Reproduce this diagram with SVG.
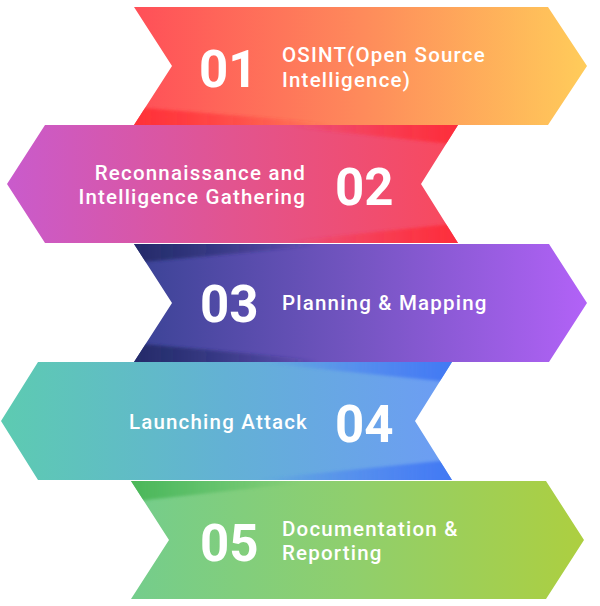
<svg xmlns="http://www.w3.org/2000/svg" width="600" height="606" viewBox="0 0 600 606">
  <defs>
    <style>
      .num { font-family: Roboto, "Liberation Sans", sans-serif; font-weight: 700; font-size: 51px; fill: #ffffff; }
      .lbl { font-family: Roboto, "Liberation Sans", sans-serif; font-weight: 500; font-size: 20.5px; fill: #ffffff; letter-spacing: 1.2px; }
      .end { text-anchor: end; }
      .shade { filter: url(#soft); }
    </style>
    <filter id="soft" x="-10%" y="-50%" width="120%" height="200%">
      <feGaussianBlur stdDeviation="1.6"/>
    </filter>
    <linearGradient id="g1" gradientUnits="userSpaceOnUse" x1="134" y1="0" x2="587" y2="0">
      <stop offset="0" stop-color="#FF4F58"/>
      <stop offset="0.5" stop-color="#FE8A5B"/>
      <stop offset="1" stop-color="#FFCC5A"/>
    </linearGradient>
    <linearGradient id="g2" gradientUnits="userSpaceOnUse" x1="7" y1="0" x2="458" y2="0">
      <stop offset="0" stop-color="#C95BCC"/>
      <stop offset="0.5" stop-color="#E2548F"/>
      <stop offset="1" stop-color="#F9495C"/>
    </linearGradient>
    <linearGradient id="g3" gradientUnits="userSpaceOnUse" x1="134" y1="0" x2="587" y2="0">
      <stop offset="0" stop-color="#3A4395"/>
      <stop offset="0.5" stop-color="#7555C2"/>
      <stop offset="1" stop-color="#B262F7"/>
    </linearGradient>
    <linearGradient id="g4" gradientUnits="userSpaceOnUse" x1="1" y1="0" x2="452" y2="0">
      <stop offset="0" stop-color="#5DCBB1"/>
      <stop offset="0.5" stop-color="#63B1D5"/>
      <stop offset="1" stop-color="#6D9CF5"/>
    </linearGradient>
    <linearGradient id="g5" gradientUnits="userSpaceOnUse" x1="131" y1="0" x2="584" y2="0">
      <stop offset="0" stop-color="#74CD8C"/>
      <stop offset="0.5" stop-color="#90CF6C"/>
      <stop offset="1" stop-color="#ADCF40"/>
    </linearGradient>
    <linearGradient id="s1" gradientUnits="userSpaceOnUse" x1="134" y1="0" x2="330" y2="0">
      <stop offset="0" stop-color="#FF3036" stop-opacity="0.95"/>
      <stop offset="1" stop-color="#FF3036" stop-opacity="0"/>
    </linearGradient>
    <linearGradient id="s2" gradientUnits="userSpaceOnUse" x1="458" y1="0" x2="290" y2="0">
      <stop offset="0" stop-color="#FD2C3A" stop-opacity="0.95"/>
      <stop offset="1" stop-color="#FD2C3A" stop-opacity="0"/>
    </linearGradient>
    <linearGradient id="s3" gradientUnits="userSpaceOnUse" x1="134" y1="0" x2="320" y2="0">
      <stop offset="0" stop-color="#232A68" stop-opacity="0.95"/>
      <stop offset="1" stop-color="#232A68" stop-opacity="0"/>
    </linearGradient>
    <linearGradient id="s4" gradientUnits="userSpaceOnUse" x1="452" y1="0" x2="260" y2="0">
      <stop offset="0" stop-color="#3F77F3" stop-opacity="0.95"/>
      <stop offset="1" stop-color="#3F77F3" stop-opacity="0"/>
    </linearGradient>
    <linearGradient id="s5" gradientUnits="userSpaceOnUse" x1="131" y1="0" x2="300" y2="0">
      <stop offset="0" stop-color="#49B656" stop-opacity="0.95"/>
      <stop offset="1" stop-color="#49B656" stop-opacity="0"/>
    </linearGradient>
    <clipPath id="c1"><polygon points="134,7 548,7 587,66 548,125 134,125 172,66"/></clipPath>
    <clipPath id="c2"><polygon points="45,125 458,125 421,184 458,243 45,243 7,184"/></clipPath>
    <clipPath id="c3"><polygon points="134,244 549,244 587,303 549,362 134,362 172,303"/></clipPath>
    <clipPath id="c4"><polygon points="38,362 452,362 415,421 452,480 38,480 1,421"/></clipPath>
    <clipPath id="c5"><polygon points="131,481 546,481 584,540 546,599 131,599 169,540"/></clipPath>
  </defs>

  <g id="step-01">
    <polygon points="134,7 548,7 587,66 548,125 134,125 172,66" fill="url(#g1)"/>
    <g clip-path="url(#c1)">
      <polygon class="shade" points="120,106 340,124 340,132 120,132" fill="url(#s1)"/>
    </g>
    <text class="num" x="199" y="87">01</text>
    <text class="lbl" x="282" y="62">OSINT(Open Source</text>
    <text class="lbl" x="282" y="87">Intelligence)</text>
  </g>

  <g id="step-02">
    <polygon points="45,125 458,125 421,184 458,243 45,243 7,184" fill="url(#g2)"/>
    <g clip-path="url(#c2)">
      <polygon class="shade" points="280,118 470,118 470,146 280,126" fill="url(#s2)"/>
      <polygon class="shade" points="280,250 470,250 470,222 280,242" fill="url(#s2)"/>
    </g>
    <text class="num" x="335" y="205">02</text>
    <text class="lbl end" x="306" y="180">Reconnaissance and</text>
    <text class="lbl end" x="306" y="204">Intelligence Gathering</text>
  </g>

  <g id="step-03">
    <polygon points="134,244 549,244 587,303 549,362 134,362 172,303" fill="url(#g3)"/>
    <g clip-path="url(#c3)">
      <polygon class="shade" points="120,237 330,237 330,245 120,264" fill="url(#s3)"/>
      <polygon class="shade" points="120,369 330,369 330,361 120,342" fill="url(#s3)"/>
    </g>
    <text class="num" x="200" y="322">03</text>
    <text class="lbl" x="282" y="310">Planning &amp; Mapping</text>
  </g>

  <g id="step-04">
    <polygon points="38,362 452,362 415,421 452,480 38,480 1,421" fill="url(#g4)"/>
    <g clip-path="url(#c4)">
      <polygon class="shade" points="260,355 470,355 470,384 260,363" fill="url(#s4)"/>
      <polygon class="shade" points="260,487 470,487 470,458 260,479" fill="url(#s4)"/>
    </g>
    <text class="num" x="335" y="442">04</text>
    <text class="lbl end" x="308" y="429">Launching Attack</text>
  </g>

  <g id="step-05">
    <polygon points="131,481 546,481 584,540 546,599 131,599 169,540" fill="url(#g5)"/>
    <g clip-path="url(#c5)">
      <polygon class="shade" points="120,474 310,474 310,482 120,503" fill="url(#s5)"/>
    </g>
    <text class="num" x="200" y="561">05</text>
    <text class="lbl" x="282" y="536">Documentation &amp;</text>
    <text class="lbl" x="282" y="560">Reporting</text>
  </g>
</svg>
